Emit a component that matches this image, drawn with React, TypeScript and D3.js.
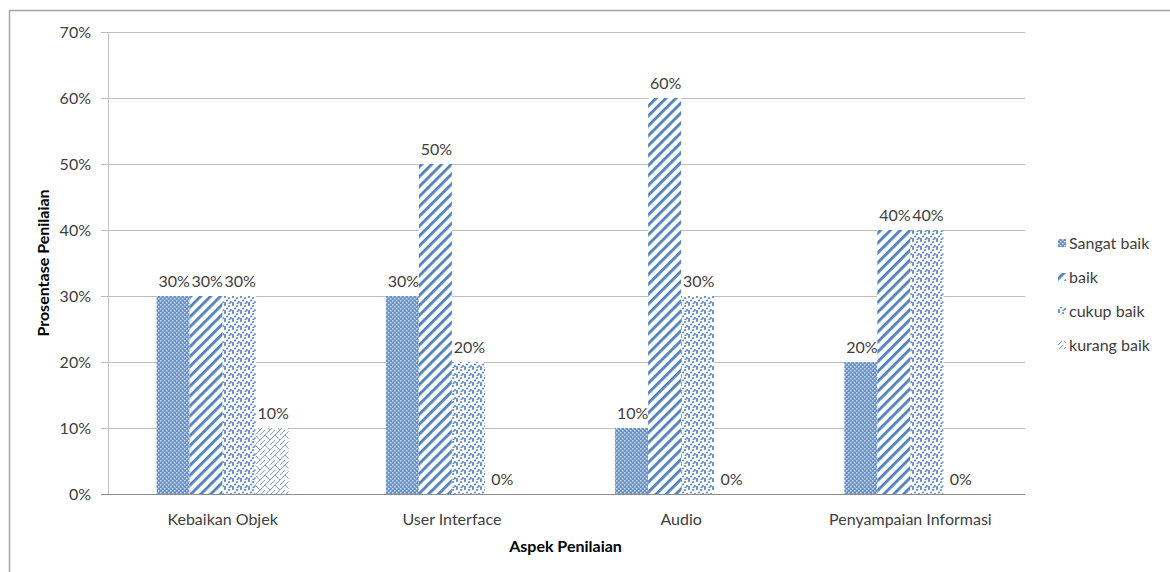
import React, { useRef, useEffect } from 'react';
import * as d3 from 'd3';

const categories: string[] = ['Kebaikan Objek', 'User Interface', 'Audio', 'Penyampaian Informasi'];
const seriesNames: string[] = ['Sangat baik', 'baik', 'cukup baik', 'kurang baik'];
const sangatBaik: number[] = [30, 30, 10, 20];
const baik: number[] = [30, 50, 60, 40];
const cukupBaik: number[] = [30, 20, 30, 40];
const kurangBaik: number[] = [10, 0, 0, 0];
const yTicks: number[] = [0, 10, 20, 30, 40, 50, 60, 70];

const BLUE = '#4f81bd';

const App: React.FC = () => {
  const svgRef = useRef<SVGSVGElement | null>(null);

  useEffect(() => {
    if (!svgRef.current) return;
    const width = 1170;
    const height = 572;
    const margin = { top: 32, right: 145, bottom: 78, left: 108 };
    const series = [sangatBaik, baik, cukupBaik, kurangBaik];

    const svg = d3.select(svgRef.current).attr('width', width).attr('height', height);
    svg.selectAll('*').remove();

    // patterns
    const defs = svg.append('defs');
    const p0 = defs.append('pattern').attr('id', 'pat0').attr('patternUnits', 'userSpaceOnUse')
      .attr('width', 4).attr('height', 4);
    p0.append('rect').attr('width', 4).attr('height', 4).attr('fill', '#6791c8');
    p0.append('rect').attr('x', 0).attr('y', 0).attr('width', 1.5).attr('height', 1.5).attr('fill', '#d4e1f1');
    p0.append('rect').attr('x', 2).attr('y', 2).attr('width', 1.5).attr('height', 1.5).attr('fill', '#d4e1f1');

    const p1 = defs.append('pattern').attr('id', 'pat1').attr('patternUnits', 'userSpaceOnUse')
      .attr('width', 7).attr('height', 7).attr('patternTransform', 'rotate(45)');
    p1.append('rect').attr('width', 7).attr('height', 7).attr('fill', '#fff');
    p1.append('rect').attr('x', 0).attr('width', 2.8).attr('height', 7).attr('fill', BLUE);

    const p2 = defs.append('pattern').attr('id', 'pat2').attr('patternUnits', 'userSpaceOnUse')
      .attr('width', 8).attr('height', 8);
    p2.append('rect').attr('width', 8).attr('height', 8).attr('fill', '#fff');
    [[1, 1], [5, 2], [3, 4.5], [7, 6], [1, 7], [5.5, 7.5]].forEach(([cx, cy]) => {
      p2.append('circle').attr('cx', cx).attr('cy', cy).attr('r', 1.1).attr('fill', '#5a89c3');
    });

    const p3 = defs.append('pattern').attr('id', 'pat3').attr('patternUnits', 'userSpaceOnUse')
      .attr('width', 10).attr('height', 10);
    p3.append('rect').attr('width', 10).attr('height', 10).attr('fill', '#fff');
    p3.append('path').attr('d', 'M0,10 L5,5 L10,10 M5,5 L10,0 M0,5 L5,0')
      .attr('stroke', '#7fa3d0').attr('stroke-width', 1).attr('fill', 'none');

    // outer border
    svg.append('path').attr('d', `M9.5,${height} L9.5,10.5 L${width},10.5`)
      .attr('fill', 'none').attr('stroke', '#a6a6a6').attr('stroke-width', 1.5);

    const x0 = d3.scaleBand<string>().domain(categories)
      .range([margin.left, width - margin.right]).paddingInner(0).paddingOuter(0);
    const barW = 33;
    const x1 = d3.scaleBand<string>().domain(seriesNames)
      .range([0, barW * 4]);
    const y = d3.scaleLinear().domain([0, 70]).range([height - margin.bottom, margin.top]);

    const font = 'Lato, "Open Sans", sans-serif';
    const fs = 16;

    // gridlines
    svg.append('g').selectAll('line').data(yTicks).join('line')
      .attr('x1', margin.left - 7).attr('x2', width - margin.right)
      .attr('y1', d => Math.round(y(d)) + 0.5).attr('y2', d => Math.round(y(d)) + 0.5)
      .attr('stroke', d => (d === 0 ? '#8c8c8c' : '#bfbfbf')).attr('stroke-width', 1);

    // y axis line
    svg.append('line').attr('x1', margin.left + 0.5).attr('x2', margin.left + 0.5)
      .attr('y1', y(70)).attr('y2', y(0)).attr('stroke', '#bfbfbf');

    // y tick labels
    svg.append('g').selectAll('text').data(yTicks).join('text')
      .attr('x', margin.left - 17).attr('y', d => y(d)).attr('dy', '0.35em')
      .attr('text-anchor', 'end').attr('font-family', font).attr('font-size', fs)
      .attr('fill', '#404040').text(d => `${d}%`);

    // bars
    series.forEach((vals, si) => {
      const g = svg.append('g');
      categories.forEach((c, ci) => {
        const cx = (x0(c) as number) + x0.bandwidth() / 2;
        const bx = cx - barW * 2 + (x1(seriesNames[si]) as number);
        const v = vals[ci];
        if (v > 0) {
          g.append('rect').attr('x', bx).attr('y', y(v)).attr('width', barW)
            .attr('height', y(0) - y(v)).attr('fill', `url(#pat${si})`);
        }
        g.append('text').attr('x', bx + barW / 2 + 1).attr('y', y(v) - 9)
          .attr('text-anchor', 'middle').attr('font-family', font).attr('font-size', fs)
          .attr('fill', '#404040').text(`${v}%`);
      });
    });

    // x labels
    svg.append('g').selectAll('text').data(categories).join('text')
      .attr('x', d => (x0(d) as number) + x0.bandwidth() / 2)
      .attr('y', y(0) + 31).attr('text-anchor', 'middle')
      .attr('font-family', font).attr('font-size', fs).attr('fill', '#404040').text(d => d);

    // axis titles
    svg.append('text').attr('x', (margin.left + width - margin.right) / 2 - 1).attr('y', 552)
      .attr('text-anchor', 'middle').attr('font-family', font).attr('font-size', fs)
      .attr('font-weight', 'bold').attr('fill', '#000').text('Aspek Penilaian');
    svg.append('text').attr('transform', `translate(49,${(y(0) + y(70)) / 2}) rotate(-90)`)
      .attr('text-anchor', 'middle').attr('font-family', font).attr('font-size', fs)
      .attr('font-weight', 'bold').attr('fill', '#000').text('Prosentase Penilaian');

    // legend
    const lg = svg.append('g').attr('transform', 'translate(1058,243)');
    seriesNames.forEach((n, i) => {
      const row = lg.append('g').attr('transform', `translate(0,${i * 34})`);
      row.append('rect').attr('x', 0).attr('y', -4).attr('width', 8).attr('height', 8)
        .attr('fill', `url(#pat${i})`);
      row.append('text').attr('x', 11).attr('y', 0).attr('dy', '0.35em')
        .attr('font-family', font).attr('font-size', fs).attr('fill', '#404040').text(n);
    });
  }, []);

  return <svg ref={svgRef} style={{ position: 'absolute', left: 0, top: 0, background: '#fff' }}></svg>;
};

export default App;
